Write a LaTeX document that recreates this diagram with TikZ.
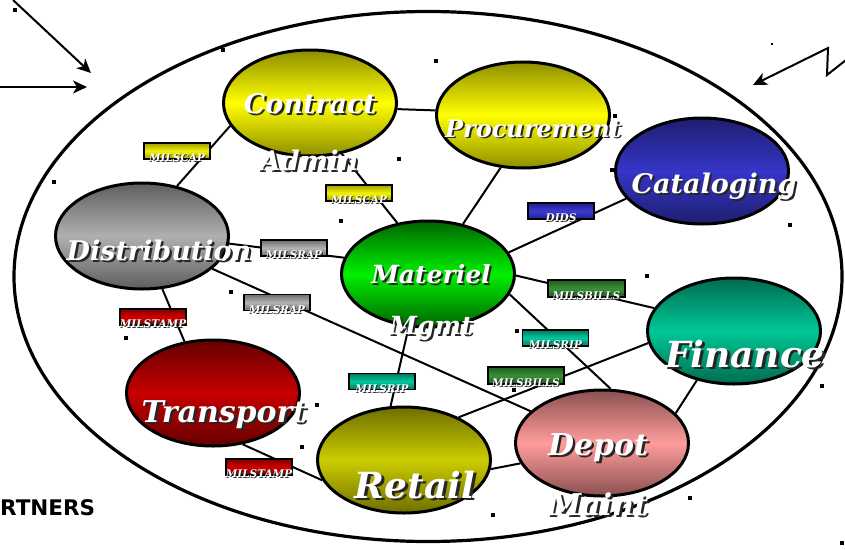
\documentclass[tikz,border=0pt]{standalone}
\usepackage{fontspec}
\setmainfont{DejaVu Serif}
\newfontfamily\sansbold{DejaVu Sans}
\usetikzlibrary{shapes.geometric,arrows.meta}
\pgfdeclarelayer{bg}
\pgfsetlayers{bg,main}
\newcommand{\shd}[1]{\makebox[0pt][l]{\hspace{0.08em}\raisebox{-0.08em}{\textcolor{black!85}{#1}}}\textcolor{white}{#1}}
\definecolor{yT}{HTML}{8E8E00}\definecolor{yM}{HTML}{FFFF00}
\definecolor{rtT}{HTML}{6E6E00}\definecolor{rtM}{HTML}{CCCC00}
\definecolor{cT}{HTML}{1E1E70}\definecolor{cM}{HTML}{3535C8}
\definecolor{dT}{HTML}{5E5E5E}\definecolor{dM}{HTML}{B0B0B0}
\definecolor{mT}{HTML}{006400}\definecolor{mM}{HTML}{00F000}
\definecolor{fT}{HTML}{006B52}\definecolor{fM}{HTML}{00C896}
\definecolor{tT}{HTML}{650000}\definecolor{tM}{HTML}{C80000}
\definecolor{pT}{HTML}{8A5050}\definecolor{pM}{HTML}{FF9C9C}
\definecolor{bYT}{HTML}{A0A000}\definecolor{bYM}{HTML}{F2F200}
\definecolor{bGT}{HTML}{6E6E6E}\definecolor{bGM}{HTML}{B4B4B4}
\definecolor{bRT}{HTML}{800000}\definecolor{bRM}{HTML}{D00000}
\definecolor{bBT}{HTML}{202090}\definecolor{bBM}{HTML}{3A3AD0}
\definecolor{bLT}{HTML}{1C5E1C}\definecolor{bLM}{HTML}{3A8F3A}
\definecolor{bTT}{HTML}{007A60}\definecolor{bTM}{HTML}{00C8A0}
\tikzset{
  bub/.style 2 args={ellipse, draw=black, line width=3pt, inner sep=0pt,
    minimum width=173pt, minimum height=106pt,
    top color=#1, bottom color=#1, middle color=#2},
  tagbox/.style 2 args={draw=black, line width=1.6pt, inner sep=0pt,
    minimum width=66pt, minimum height=16pt,
    top color=#1, bottom color=#1, middle color=#2},
  link/.style={line width=2pt},
  bigtxt/.style={anchor=base, inner sep=0pt, font=\bfseries\itshape\fontsize{#1}{#1}\selectfont},
  smalltxt/.style={anchor=base, inner sep=0pt, font=\bfseries\itshape\fontsize{10.5}{10.5}\selectfont},
  speck/.style={fill=black, inner sep=0pt, minimum size=4pt},
  arr/.style={line width=2pt, -{Stealth[length=14pt,width=13pt,inset=4pt]}}
}
\begin{document}
\begin{tikzpicture}[x=1pt,y=-1pt]
\useasboundingbox (0,0) rectangle (845,549);
% outer boundary
\node[ellipse, draw=black, line width=3.2pt, minimum width=828pt, minimum height=530pt, inner sep=0pt] (world) at (428,276.5) {};
% bubbles
\node[bub={yT}{yM}] (con) at (310,103) {};
\node[bub={yT}{yM}] (pro) at (523,115) {};
\node[bub={cT}{cM}] (cat) at (702,171) {};
\node[bub={dT}{dM}] (dis) at (142,236) {};
\node[bub={mT}{mM}] (mat) at (428,274) {};
\node[bub={fT}{fM}] (fin) at (734,331) {};
\node[bub={tT}{tM}] (tra) at (213,393) {};
\node[bub={rtT}{rtM}] (ret) at (404,460) {};
\node[bub={pT}{pM}] (dep) at (602,443) {};
% connectors
\begin{pgfonlayer}{bg}
\draw[link] (con.-4) -- (pro.177);
\draw[link] (con.196) -- (dis.55);
\draw[link] (con.-58) -- (mat.121);
\draw[link] (pro.247) -- (mat.55);
\draw[link] (cat.200) -- (mat.15);
\draw[link] (dis.-5) -- (mat.169);
\draw[link] (dis.-25) -- (dep.156);
\draw[link] (dis.-69) -- (tra.119);
\draw[link] (tra.-60) -- (ret.194);
\draw[link] (mat.250) -- (ret.104);
\draw[link] (mat.-1) -- (fin.164);
\draw[link] (mat.-14) -- (dep.81);
\draw[link] (ret.38) -- (fin.188);
\draw[link] (ret.-6) -- (dep.194);
\draw[link] (dep.22) -- (fin.233);
\end{pgfonlayer}
% bubble texts
\node[bigtxt=27] (tcon) at (310,113) {\shd{Contract}};
\node[bigtxt=27] (tadm) at (309,170) {\shd{Admin}};
\node[bigtxt=24] (tpro) at (533,137) {\shd{Procurement}};
\node[bigtxt=27] (tcat) at (714,193) {\shd{Cataloging}};
\node[bigtxt=27] (tdis) at (159,260) {\shd{Distribution}};
\node[bigtxt=25] (tmat) at (431,283) {\shd{Materiel}};
\node[bigtxt=25] (tmgm) at (431,334) {\shd{Mgmt}};
\node[bigtxt=36] (tfin) at (745,367) {\shd{Finance}};
\node[bigtxt=30] (ttra) at (224,422) {\shd{Transport}};
\node[bigtxt=36] (tret) at (415,498) {\shd{Retail}};
\node[bigtxt=30] (tdep) at (598,455) {\shd{Depot}};
\node[bigtxt=30] (tmai) at (598,515) {\shd{Maint}};
% message tags
\node[tagbox={bYT}{bYM}] (b1) at (177,151) {};
\node[tagbox={bYT}{bYM}] (b2) at (359,193) {};
\node[tagbox={bGT}{bGM}] (b3) at (294,248) {};
\node[tagbox={bGT}{bGM}] (b4) at (277,302.5) {};
\node[tagbox={bRT}{bRM}] (b5) at (153,317) {};
\node[tagbox={bRT}{bRM}] (b6) at (259,467) {};
\node[tagbox={bBT}{bBM}] (b7) at (561,211) {};
\node[tagbox={bLT}{bLM}, minimum width=77pt, minimum height=17pt] (b8) at (586.5,288.5) {};
\node[tagbox={bTT}{bTM}] (b9) at (555.5,338) {};
\node[tagbox={bLT}{bLM}, minimum width=76pt, minimum height=17pt] (b10) at (526,375.5) {};
\node[tagbox={bTT}{bTM}] (b11) at (382,381.5) {};
\node[smalltxt] (l1) at ([yshift=-2pt]b1.south) {\shd{MILSCAP}};
\node[smalltxt] (l2) at ([yshift=-2pt]b2.south) {\shd{MILSCAP}};
\node[smalltxt] (l3) at ([yshift=-2pt]b3.south) {\shd{MILSRAP}};
\node[smalltxt] (l4) at ([yshift=-2pt]b4.south) {\shd{MILSRAP}};
\node[smalltxt] (l5) at ([yshift=-2pt]b5.south) {\shd{MILSTAMP}};
\node[smalltxt] (l6) at ([yshift=-2pt]b6.south) {\shd{MILSTAMP}};
\node[smalltxt] (l7) at ([yshift=-2pt]b7.south) {\shd{DIDS}};
\node[smalltxt] (l8) at ([yshift=-2pt]b8.south) {\shd{MILSBILLS}};
\node[smalltxt] (l9) at ([yshift=-2pt]b9.south) {\shd{MILSRIP}};
\node[smalltxt] (l10) at ([yshift=-2pt]b10.south) {\shd{MILSBILLS}};
\node[smalltxt] (l11) at ([yshift=-2pt]b11.south) {\shd{MILSRIP}};
% outside arrows
\coordinate (a1s) at (13,0);
\coordinate (a1e) at (91,73);
\coordinate (a2s) at (0,87);
\coordinate (a2e) at (87,87);
\draw[arr] (a1s) -- (a1e);
\draw[arr] (a2s) -- (a2e);
\coordinate (z0) at (846,60);
\coordinate (z1) at (827,75);
\coordinate (z2) at (828,48);
\coordinate (z3) at (753,85);
\draw[arr, line join=miter] (z0) -- (z1) -- (z2) -- (z3);
% partial caption
\node[anchor=base west, inner sep=0pt, font=\sansbold\bfseries\fontsize{21.5}{21.5}\selectfont] (cap) at (0,515) {RTNERS};
% specks
\foreach \p/\q in {15/10,223/50,436/61,54/182,399/159,341/221,231/292,126/338,317/405,302/447,647/276,517/331,514/390,493/515,690/498,822/386,842/543,790/225,612/170,615/116}
  \node[speck] at (\p,\q) {};
\node[speck, minimum size=2pt] (sp) at (772,44) {};
\end{tikzpicture}
\end{document}
